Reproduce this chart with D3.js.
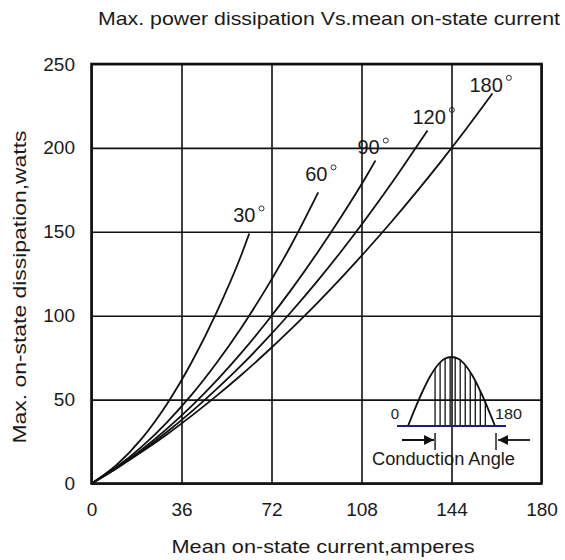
<!DOCTYPE html>
<html>
<head>
<meta charset="utf-8">
<script src="https://cdn.jsdelivr.net/npm/d3@7"></script>
<style>
  body { margin: 0; background: #fff; }
  text { font-family: "Liberation Sans", Arial, sans-serif; fill: #1a1a1a; }
</style>
</head>
<body>
<svg id="chart" width="565" height="560"></svg>
<script>
// values
const xTicks = [0, 36, 72, 108, 144, 180];
const yTicks = [0, 50, 100, 150, 200, 250];

const angles = ["30", "60", "90", "120", "180"];

// mean current (A) / dissipation (W) per conduction angle
const curve30 = [[0, 0], [10, 11], [20, 26.6], [30, 47], [40, 72.1], [50, 101.9], [60, 136.5], [63.1, 149]];
const curve60 = [[0, 0], [10, 9.8], [20, 21.8], [30, 36.2], [40, 52.8], [50, 71.8], [60, 93], [70, 116.6], [80, 142.4], [90.7, 173.5]];
const curve90 = [[0, 0], [10, 9.3], [20, 20.1], [30, 32.4], [40, 46.1], [50, 61.3], [60, 78], [70, 96.1], [80, 115.7], [90, 136.8], [100, 159.3], [110, 183.3], [113.6, 192.5]];
const curve120 = [[0, 0], [10, 9.1], [20, 19.3], [30, 30.5], [40, 42.8], [50, 56.2], [60, 70.5], [70, 86], [80, 102.5], [90, 120], [100, 138.6], [110, 158.2], [120, 178.9], [130, 200.7], [134.4, 210.4]];
const curve180 = [[0, 0], [10, 9], [20, 18.7], [30, 29.1], [40, 40.3], [50, 52.2], [60, 64.8], [70, 78.2], [80, 92.3], [90, 107.1], [100, 122.7], [110, 139], [120, 156], [130, 173.8], [140, 192.3], [150, 211.6], [160.4, 232.5]];
const curves = [curve30, curve60, curve90, curve120, curve180];

// inset: half sine wave, angle in degrees / relative amplitude
const waveAngle = [0, 15, 30, 45, 60, 75, 90, 105, 120, 135, 150, 165, 180];
const waveValue = [0, 0.26, 0.5, 0.71, 0.87, 0.97, 1, 0.97, 0.87, 0.71, 0.5, 0.26, 0];

const svg = d3.select("#chart");
const mLeft = 91.5, mRight = 541.5, mTop = 64, mBottom = 483.5;
const w = mRight - mLeft, h = mBottom - mTop;

const x = d3.scaleLinear().domain([0, 180]).range([mLeft, mRight]);
const y = d3.scaleLinear().domain([0, 250]).range([mBottom, mTop]);

// title
svg.append("text")
  .attr("x", 98).attr("y", 25)
  .attr("font-size", 19)
  .attr("textLength", 462).attr("lengthAdjust", "spacingAndGlyphs")
  .text("Max. power dissipation Vs.mean on-state current");

// grid + tick labels
const gx = svg.append("g")
  .attr("transform", `translate(0,${mBottom})`)
  .call(d3.axisBottom(x).tickValues(xTicks).tickSizeInner(-h).tickSizeOuter(0).tickPadding(19));
const gy = svg.append("g")
  .attr("transform", `translate(${mLeft},0)`)
  .call(d3.axisLeft(y).tickValues(yTicks).tickSizeInner(-w).tickSizeOuter(0).tickPadding(16.5));

[gx, gy].forEach(g => {
  g.select(".domain").remove();
  g.selectAll(".tick line").attr("stroke", "#111").attr("stroke-width", 1.6);
  g.selectAll(".tick text")
    .attr("font-size", 19)
    .attr("font-family", "'Liberation Sans', Arial, sans-serif")
    .attr("fill", "#1a1a1a");
});

// frame
svg.append("rect")
  .attr("x", mLeft).attr("y", mTop).attr("width", w).attr("height", h)
  .attr("fill", "none").attr("stroke", "#111").attr("stroke-width", 2.6);

// axis titles
svg.append("text")
  .attr("x", 323).attr("y", 553)
  .attr("text-anchor", "middle").attr("font-size", 19)
  .attr("textLength", 303).attr("lengthAdjust", "spacingAndGlyphs")
  .text("Mean on-state current,amperes");

svg.append("text")
  .attr("transform", "translate(26,287) rotate(-90)")
  .attr("text-anchor", "middle").attr("font-size", 19)
  .attr("textLength", 313).attr("lengthAdjust", "spacingAndGlyphs")
  .text("Max. on-state dissipation,watts");

// curves
const line = d3.line()
  .x(d => x(d[0])).y(d => y(d[1]))
  .curve(d3.curveMonotoneX);

svg.append("g").selectAll("path")
  .data(curves)
  .join("path")
  .attr("d", line)
  .attr("fill", "none")
  .attr("stroke", "#111")
  .attr("stroke-width", 1.8);

// curve labels, placed relative to each curve's end point
const labelShift = [[-16, -11], [-13, -11], [-18, -6], [-15, -6.5], [-23, -1.5]];
const labels = svg.append("g").selectAll("g")
  .data(curves)
  .join("g")
  .attr("transform", (d, i) => {
    const end = d[d.length - 1];
    return `translate(${x(end[0]) + labelShift[i][0]},${y(end[1]) + labelShift[i][1]})`;
  });
labels.append("text")
  .attr("font-size", 20)
  .text((d, i) => angles[i]);
// degree mark drawn as a small ring
labels.append("circle")
  .attr("cx", function () {
    return this.parentNode.querySelector("text").getComputedTextLength() + 6;
  })
  .attr("cy", -14)
  .attr("r", 2.5)
  .attr("fill", "none")
  .attr("stroke", "#1a1a1a")
  .attr("stroke-width", 0.9);

// inset: conduction angle sketch
const ix = d3.scaleLinear().domain([0, 180]).range([408, 495]);
const iy = d3.scaleLinear().domain([0, 1]).range([426, 357]);
const wave = waveAngle.map((a, i) => [a, waveValue[i]]);
const inset = svg.append("g");

const waveAt = a => {
  const k = Math.min(waveAngle.length - 2, Math.floor(a / 15));
  const t = (a - waveAngle[k]) / 15;
  return waveValue[k] + (waveValue[k + 1] - waveValue[k]) * t;
};
const hatchAngles = d3.range(56, 166, 10.4);
inset.selectAll("line.hatch")
  .data(hatchAngles)
  .join("line")
  .attr("class", "hatch")
  .attr("x1", d => ix(d)).attr("x2", d => ix(d))
  .attr("y1", iy(0))
  .attr("y2", d => iy(waveAt(d)))
  .attr("stroke", "#111").attr("stroke-width", 1.3);

inset.append("path")
  .attr("d", d3.line().x(d => ix(d[0])).y(d => iy(d[1])).curve(d3.curveCatmullRom)(wave))
  .attr("fill", "none").attr("stroke", "#111").attr("stroke-width", 1.8);

inset.append("line")
  .attr("x1", 397).attr("x2", 506).attr("y1", iy(0)).attr("y2", iy(0))
  .attr("stroke", "#1c1c8a").attr("stroke-width", 1.8);

inset.append("text").attr("x", 395).attr("y", 418.5)
  .attr("text-anchor", "middle").attr("font-size", 15).text("0");
inset.append("text").attr("x", 495).attr("y", 418.5)
  .attr("font-size", 15).attr("textLength", 27).attr("lengthAdjust", "spacingAndGlyphs").text("180");

// arrows
const defs = svg.append("defs");
defs.append("marker")
  .attr("id", "arrow")
  .attr("viewBox", "0 0 10 10").attr("refX", 10).attr("refY", 5)
  .attr("markerWidth", 10).attr("markerHeight", 10)
  .attr("markerUnits", "userSpaceOnUse")
  .attr("orient", "auto")
  .append("path").attr("d", "M0,0L10,5L0,10Z").attr("fill", "#111");

const ax1 = ix(56), ax2 = ix(180);
inset.append("line").attr("x1", 402).attr("x2", ax1 - 1).attr("y1", 440).attr("y2", 440)
  .attr("stroke", "#111").attr("stroke-width", 1.8).attr("marker-end", "url(#arrow)");
inset.append("line").attr("x1", 530).attr("x2", ax2 + 3).attr("y1", 440).attr("y2", 440)
  .attr("stroke", "#111").attr("stroke-width", 1.8).attr("marker-end", "url(#arrow)");
[ax1, ax2 + 1].forEach(px => {
  inset.append("line").attr("x1", px).attr("x2", px).attr("y1", 433).attr("y2", 450)
    .attr("stroke", "#111").attr("stroke-width", 1.4);
});

inset.append("text").attr("x", 372).attr("y", 465)
  .attr("font-size", 18).attr("textLength", 143).attr("lengthAdjust", "spacingAndGlyphs")
  .text("Conduction Angle");
</script>
</body>
</html>
